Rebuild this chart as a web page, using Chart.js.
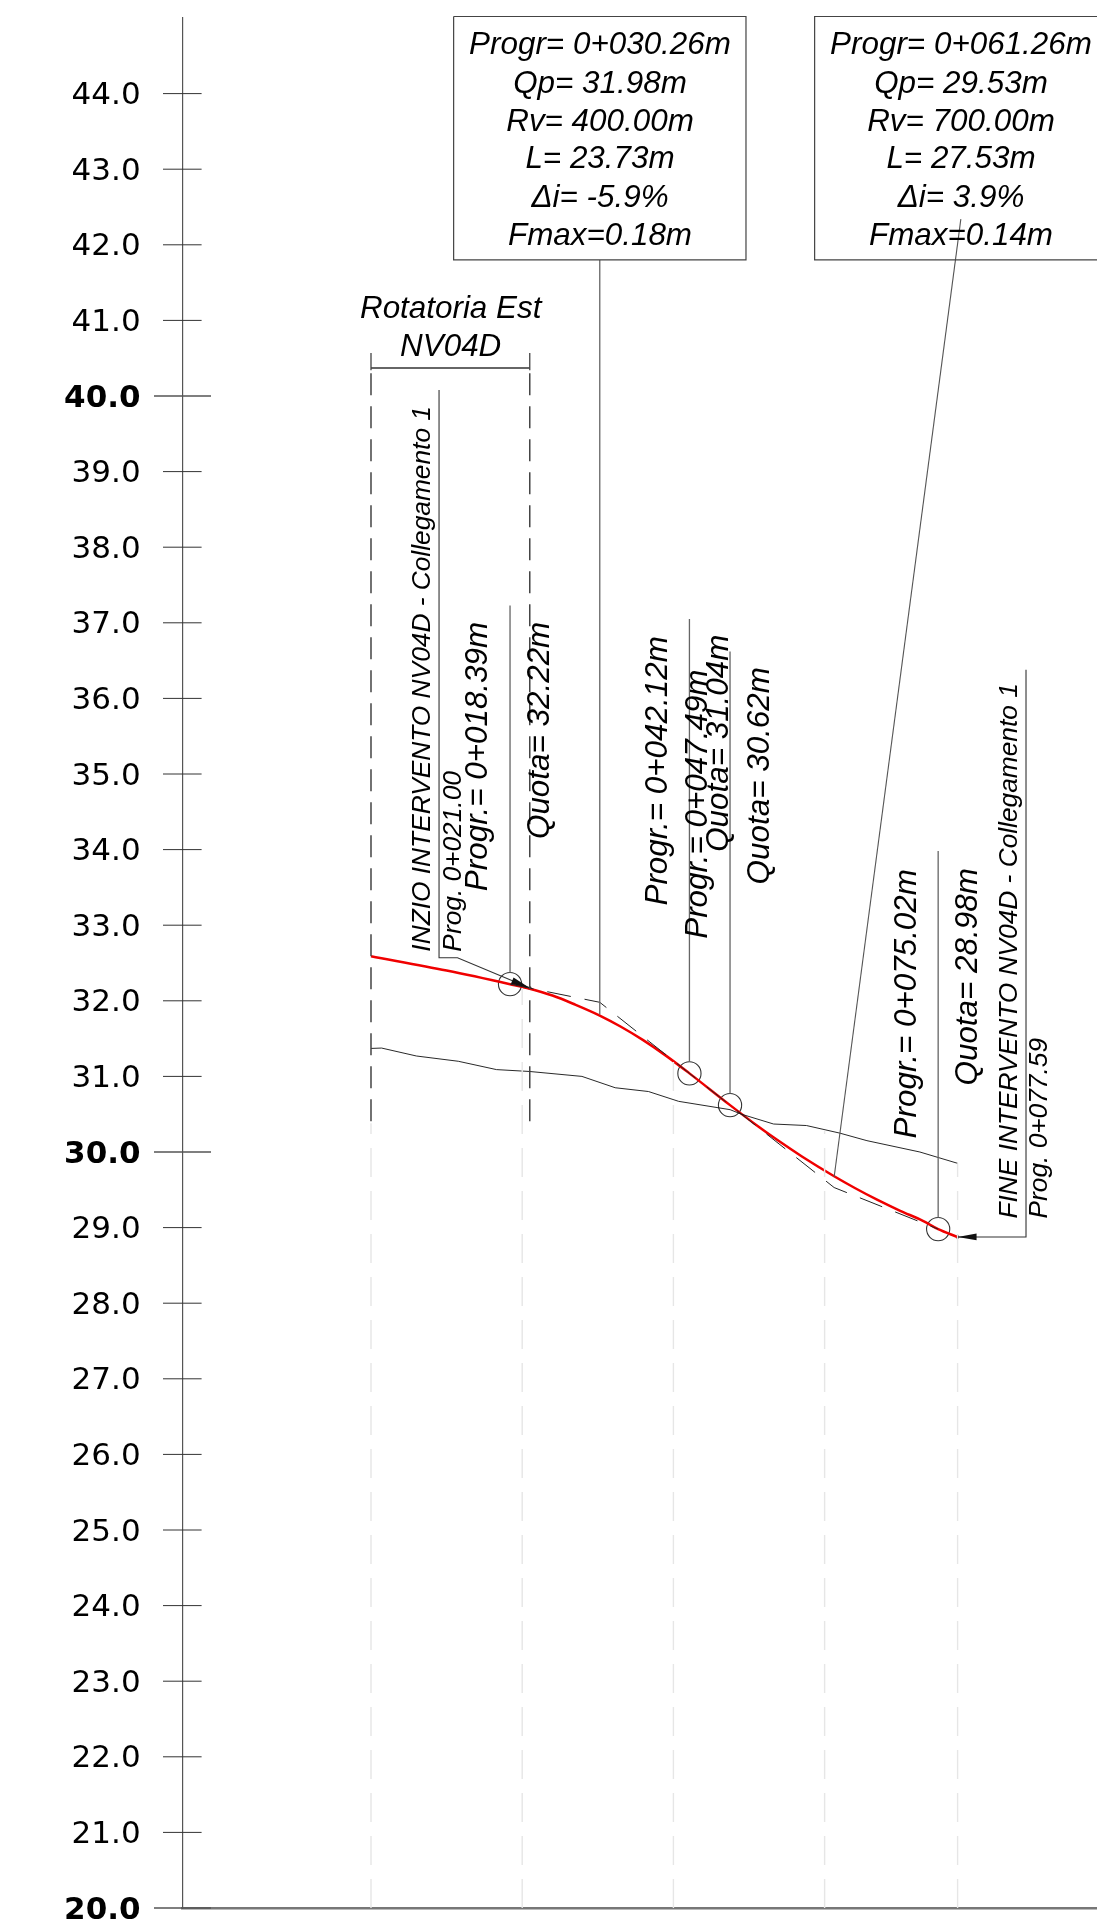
<!DOCTYPE html>
<html><head><meta charset="utf-8">
<style>html,body{margin:0;padding:0;background:#fff}canvas{display:block}</style>
<script src="https://cdn.jsdelivr.net/npm/chart.js@4"></script>
</head><body><canvas id="c" width="1097" height="1930"></canvas>
<script>
// values (x = progressive m, y = elevation m)
const yTickValues=[44,43,42,41,40,39,38,37,36,35,34,33,32,31,30,29,28,27,26,25,24,23,22,21,20];
const designProg=[0,10,18.39,21,24,27,30.26,33,36,39,42.12,47.49,51,54,57,61.26,64,67,70,73,75.02,77.59];
const designElev=[32.59,32.40,32.22,32.16,32.07,31.95,31.805,31.66,31.48,31.275,31.04,30.62,30.354,30.141,29.941,29.679,29.524,29.366,29.222,29.09,28.98,28.875];
const groundProg=[0,1.4,6,11.55,16.6,21,27.9,32.3,36.7,40.7,47.5,49,53.25,57.6,62,65.6,72.6,77.6];
const groundElev=[31.37,31.375,31.27,31.2,31.09,31.065,31,30.85,30.8,30.67,30.56,30.5,30.37,30.35,30.25,30.15,30,29.85];
const tangentProg=[18.39,30.26,42.12,47.49,61.26,75.02];
const tangentElev=[32.22,31.98,31.04,30.62,29.53,28.98];
const circleProg=[18.39,42.12,47.49,75.02];
const circleElev=[32.22,31.04,30.62,28.98];
const circleLeaderTop=[37.23,37.05,36.62,33.98];
const stationProg=[0,20,40,60,77.59];
const stationTop=[30.38,32.17,31.2,30.28,29.85];
const rotatoriaProg=[0,21];
const box1Lines=["Progr= 0+030.26m","Qp= 31.98m","Rv= 400.00m","L= 23.73m","Δi= -5.9%","Fmax=0.18m"];
const box2Lines=["Progr= 0+061.26m","Qp= 29.53m","Rv= 700.00m","L= 27.53m","Δi= 3.9%","Fmax=0.14m"];
const boxLineElev=[44.52,44.01,43.51,43.01,42.5,42];
const verticalLabels=[
 ["Progr.= 0+018.39m",15.4,33.45,"l"],["Quota= 32.22m",23.55,34.14,"l"],
 ["INZIO INTERVENTO NV04D - Collegamento 1",7.8,32.65,"s"],["Prog. 0+021.00",11.9,32.65,"s"],
 ["Progr.= 0+042.12m",39.11,33.26,"l"],["Progr.= 0+047.49m",44.4,32.82,"l"],
 ["Quota= 31.04m",47.22,33.97,"l"],["Quota= 30.62m",52.65,33.54,"l"],
 ["Progr.= 0+075.02m",72.09,30.18,"l"],["Quota= 28.98m",80.2,30.88,"l"],
 ["FINE INTERVENTO NV04D - Collegamento 1",85.4,29.12,"s"],["Prog. 0+077.59",89.4,29.12,"s"]];

const zip=(a,b)=>a.map((x,i)=>({x,y:b[i]}));
const seg=(pts,o={})=>({data:pts.map(p=>({x:p[0],y:p[1]})),showLine:true,pointRadius:0,borderColor:'#555',borderWidth:1.2,clip:false,...o});
const datasets=[];
stationProg.forEach((p,i)=>datasets.push(seg([[p,20],[p,stationTop[i]]],{borderColor:'#e6e6e6',borderWidth:1.4,borderDash:[29,14]})));
rotatoriaProg.forEach(p=>{
  datasets.push(seg([[p,40.3],[p,30.38]],{borderColor:'#444',borderWidth:1.5,borderDash:[22,11]}));
  datasets.push(seg([[p,40.57],[p,40.34]],{borderColor:'#444',borderWidth:1.3}));
});
datasets.push(seg([[0,40.37],[21,40.37]],{borderColor:'#333',borderWidth:1.5}));
// boxes
datasets.push(seg([[10.93,45.02],[49.6,45.02],[49.6,41.8],[10.93,41.8],[10.93,45.02]],{borderColor:'#444',borderWidth:1.2}));
datasets.push(seg([[96.1,45.02],[58.68,45.02],[58.68,41.8],[96.1,41.8]],{borderColor:'#444',borderWidth:1.2}));
// leaders
datasets.push(seg([[30.26,41.8],[30.26,31.82]],{borderColor:'#666',borderWidth:1.3}));
datasets.push(seg([[78.02,42.34],[61.26,29.67]],{borderColor:'#555',borderWidth:1.1}));
circleProg.forEach((p,i)=>datasets.push(seg([[p,circleLeaderTop[i]],[p,circleElev[i]+0.15]],{borderColor:'#666',borderWidth:1.3})));
datasets.push(seg([[9,40.08],[9,32.57],[11.44,32.57],[21,32.17]],{borderColor:'#333',borderWidth:1.1}));
datasets.push(seg([[86.64,36.38],[86.64,28.876],[77.59,28.876]],{borderColor:'#333',borderWidth:1.1}));
// profile lines
datasets.push({data:zip(groundProg,groundElev),showLine:true,pointRadius:0,borderColor:'#111',borderWidth:0.9,tension:0});
datasets.push({data:zip(tangentProg,tangentElev),showLine:true,pointRadius:0,borderColor:'#222',borderWidth:1,borderDash:[24,14]});
datasets.push({data:zip(designProg,designElev),showLine:true,pointRadius:0,borderColor:'#f00000',borderWidth:2.5,cubicInterpolationMode:'monotone'});
datasets.push({data:zip(circleProg,circleElev),showLine:false,pointRadius:11.6,pointBorderColor:'#333',pointBackgroundColor:'rgba(0,0,0,0)',pointBorderWidth:1.1});
datasets.push({data:[{x:21,y:32.17},{x:77.59,y:28.876}],showLine:false,pointRadius:1.8,pointBackgroundColor:'#111',pointBorderWidth:0});

const overlay={id:'overlay',afterDatasetsDraw(chart){
  const {ctx,scales:{x,y}}=chart, axisX=x.left;
  ctx.save();
  // axis ticks
  yTickValues.forEach(v=>{
    const py=y.getPixelForValue(v), major=v%10===0;
    ctx.beginPath();
    ctx.strokeStyle=major?'#555':'#333';
    ctx.lineWidth=major?1.7:1;
    ctx.moveTo(axisX-(major?28.6:19.6),py);ctx.lineTo(axisX+(major?28.4:19),py);ctx.stroke();
  });
  // arrowheads
  const arrow=(p0,v0,p1,v1,len,hw)=>{
    const ax=x.getPixelForValue(p0),ay=y.getPixelForValue(v0),bx=x.getPixelForValue(p1),by=y.getPixelForValue(v1);
    const d=Math.hypot(bx-ax,by-ay),ux=(bx-ax)/d,uy=(by-ay)/d;
    ctx.beginPath();ctx.fillStyle='#111';ctx.moveTo(ax,ay);
    ctx.lineTo(ax+ux*len-uy*hw,ay+uy*len+ux*hw);ctx.lineTo(ax+ux*len+uy*hw,ay+uy*len-ux*hw);ctx.closePath();ctx.fill();
  };
  arrow(21,32.17,11.44,32.57,19,3.4);
  arrow(77.59,28.876,86.64,28.876,19,3.4);
  // texts
  ctx.fillStyle='#000';
  const large='italic 31.4px "Liberation Sans"', small='italic 26.3px "Liberation Sans"';
  ctx.font=large;ctx.textAlign='center';ctx.textBaseline='alphabetic';
  box1Lines.forEach((t,i)=>ctx.fillText(t,x.getPixelForValue(30.29),y.getPixelForValue(boxLineElev[i])));
  box2Lines.forEach((t,i)=>ctx.fillText(t,x.getPixelForValue(78.04),y.getPixelForValue(boxLineElev[i])));
  ctx.fillText("Rotatoria Est",x.getPixelForValue(10.54),y.getPixelForValue(41.03));
  ctx.fillText("NV04D",x.getPixelForValue(10.54),y.getPixelForValue(40.53));
  ctx.textAlign='left';
  verticalLabels.forEach(([t,p,v,s])=>{
    ctx.save();
    ctx.translate(x.getPixelForValue(p),y.getPixelForValue(v));
    ctx.rotate(-Math.PI/2);
    ctx.font=s==='l'?large:small;
    ctx.fillText(t,0,0);
    ctx.restore();
  });
  ctx.restore();
}};

const noPad=s=>{s.paddingTop=0;s.paddingBottom=0;s.paddingLeft=0;s.paddingRight=0;};
new Chart(document.getElementById('c'),{
  type:'scatter',
  data:{datasets},
  plugins:[overlay],
  options:{
    responsive:false,animation:false,devicePixelRatio:1,
    layout:{autoPadding:false,padding:{top:18,right:0,left:0,bottom:0}},
    plugins:{legend:{display:false},tooltip:{enabled:false}},
    scales:{
      x:{type:'linear',min:-24.92,max:96.03,
        afterFit(s){s.height=22;noPad(s);},
        grid:{display:false},border:{color:'#777',width:2.5},
        ticks:{display:false}},
      y:{type:'linear',min:20,max:45,
        afterFit(s){s.width=182.6;noPad(s);},
        afterBuildTicks(s){s.ticks=yTickValues.map(v=>({value:v}));},
        grid:{display:false,drawTicks:false},border:{color:'#555',width:1.2},
        ticks:{autoSkip:false,padding:42,color:'#000',
          callback:v=>['',Number(v).toFixed(1)],
          font:c=>({family:'"DejaVu Sans"',size:31,lineHeight:0.16,weight:(c.tick&&c.tick.value%10===0)?'bold':'normal'})}}
    }
  }
});
</script></body></html>
